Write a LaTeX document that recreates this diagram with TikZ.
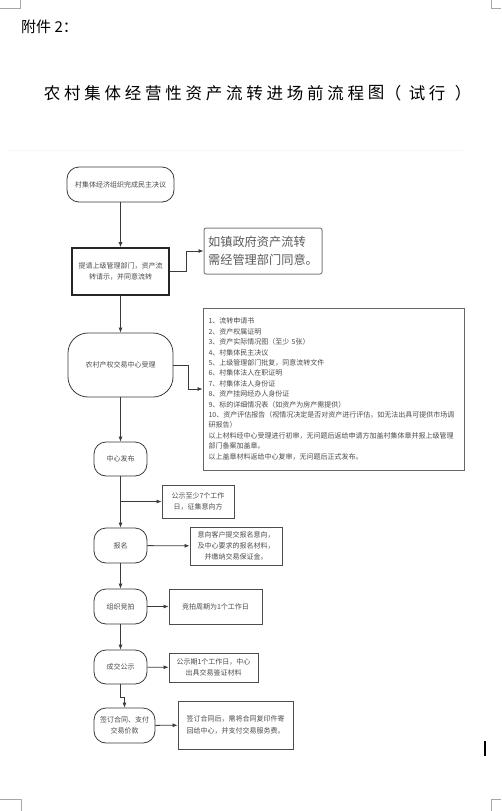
\documentclass[tikz,border=0pt]{standalone}
\usepackage{fontspec}
\setmainfont{Noto Sans CJK SC}
\usetikzlibrary{arrows.meta,calc}
\definecolor{ln}{HTML}{3A3A3A}
\definecolor{tx}{HTML}{4A4A4A}
\tikzset{
  base/.style={draw=ln,line width=0.8pt,text=tx,inner sep=0pt,align=center,
    font=\fontsize{7}{11.5}\selectfont},
  term/.style={base,rounded corners=12pt},
  bigterm/.style={base,rounded corners=20pt},
  procbox/.style={base,line width=1.6pt,draw=black!85},
  notebox/.style={base,draw=black!70},
  graybox/.style={draw=black!50,line width=1pt,rounded corners=2pt,text=black!65,
    inner sep=0pt,align=left,font=\fontsize{12.2}{18}\selectfont},
  listbox/.style={draw=black!60,line width=0.9pt,text=tx,inner xsep=5.5pt,inner ysep=0pt,
    align=left,text width=250pt,font=\fontsize{7}{10.4}\selectfont},
  arr/.style={draw=ln,line width=0.8pt,-{Latex[length=5pt,width=4pt]}},
  cornermark/.style={draw=black!35,line width=0.6pt},
  titlech/.style={inner sep=0pt,font=\fontsize{16.5}{16.5}\selectfont,text=black},
}
\begin{document}
\begin{tikzpicture}[x=1pt,y=-1pt]
\useasboundingbox (0,0) rectangle (501,811);
% page corner marks
\draw[cornermark] (20.5,0) -- (20.5,8) -- (0,8);
\draw[cornermark] (491.5,0) -- (491.5,8) -- (501,8);
\draw[cornermark] (0,799.5) -- (21,799.5) -- (21,811);
\draw[cornermark] (501,799.5) -- (491.5,799.5) -- (491.5,811);
\draw[black!3,line width=0.4pt] (8,150) -- (463,150);
\draw[black,line width=1.4pt] (485,741) -- (485,756);
% heading
\node[anchor=west,inner sep=0pt,font=\fontsize{15}{15}\selectfont] (hd) at (21,27) {附件 2：};
\foreach \c [count=\i from 0] in {农,村,集,体,经,营,性,资,产,流,转,进,场,前,流,程,图}
  \node[titlech] (t\i) at ({52+\i*20.25},93) {\c};
\node[titlech] (tp1) at (393,93) {（};
\node[titlech] (tp2) at (417,93) {试};
\node[titlech] (tp3) at (437,93) {行};
\node[titlech] (tp4) at (463,93) {）};
% flow nodes
\node[term,minimum width=107pt,minimum height=35pt] (n1) at (120.5,184.5) {村集体经济组织完成民主决议};
\node[procbox,minimum width=97pt,minimum height=47pt] (n2) at (120.5,271.5) {提请上级管理部门，资产流\\转请示，并同意流转};
\node[graybox,minimum width=118pt,minimum height=46pt] (n3) at (263,251) {如镇政府资产流转\\需经管理部门同意。};
\node[bigterm,minimum width=105pt,minimum height=64pt] (n4) at (120.5,365) {农村产权交易中心受理};
\node[listbox,minimum height=162pt] (n5) at (333.5,389) {1、流转申请书\\
2、资产权属证明\\
3、资产实际情况图（至少 5张）\\
4、村集体民主决议\\
5、上级管理部门批复，同意流转文件\\
6、村集体法人在职证明\\
7、村集体法人身份证\\
8、资产挂网经办人身份证\\
9、标的详细情况表（如资产为房产需提供）\\
10、资产评估报告（视情况决定是否对资产进行评估，如无法出具可提供市场调\\
研报告）\\
以上材料经中心受理进行初审，无问题后返给申请方加盖村集体章并报上级管理\\
部门备案加盖章。\\
以上盖章材料返给中心复审，无问题后正式发布。};
\node[term,minimum width=53pt,minimum height=34pt] (n6) at (120.5,459) {中心发布};
\node[notebox,minimum width=72pt,minimum height=33pt] (n7) at (198,501.5) {公示至少7个工作\\日，征集意向方};
\node[term,minimum width=53pt,minimum height=35pt] (n8) at (120.5,545.5) {报名};
\node[notebox,minimum width=92pt,minimum height=38pt,font=\fontsize{7}{11}\selectfont] (n9) at (236,546) {意向客户提交报名意向，\\及中心要求的报名材料，\\并缴纳交易保证金。};
\node[term,minimum width=53pt,minimum height=35pt] (n10) at (120.5,606.5) {组织竞拍};
\node[notebox,minimum width=93pt,minimum height=35pt] (n11) at (215.5,606.5) {竞拍周期为1个工作日};
\node[term,minimum width=53pt,minimum height=34pt] (n12) at (120.5,667) {成交公示};
\node[notebox,minimum width=89pt,minimum height=29pt] (n13) at (213.5,667.5) {公示期1个工作日，中心\\出具交易鉴证材料};
\node[term,minimum width=61pt,minimum height=35pt] (n14) at (124.5,725.5) {签订合同、支付\\交易价款};
\node[notebox,minimum width=115pt,minimum height=48pt] (n15) at (235.5,725) {签订合同后，需将合同复印件寄\\回给中心，并支付交易服务费。};
% connectors
\draw[arr] (n1) -- (n2);
\draw[arr] (n2.east) -- ++(17,0) |- (n3.west);
\draw[arr] (n2) -- (n4);
\draw[arr] (n4.east) -- ++(15,0) |- (n5.west);
\draw[arr] (n4) -- (n6);
\draw[arr] (n6) -- (n8);
\draw[arr] (n6.south |- n7.west) -- (n7.west);
\draw[arr] (n8) -- (n9);
\draw[arr] (n8) -- (n10);
\draw[arr] (n10) -- (n11);
\draw[arr] (n10) -- (n12);
\draw[arr] (n12) -- (n13);
\draw[arr] (n12.south) -- ++(0,13) -| (n14.north);
\draw[arr] (n14) -- (n15);
\end{tikzpicture}
\end{document}
